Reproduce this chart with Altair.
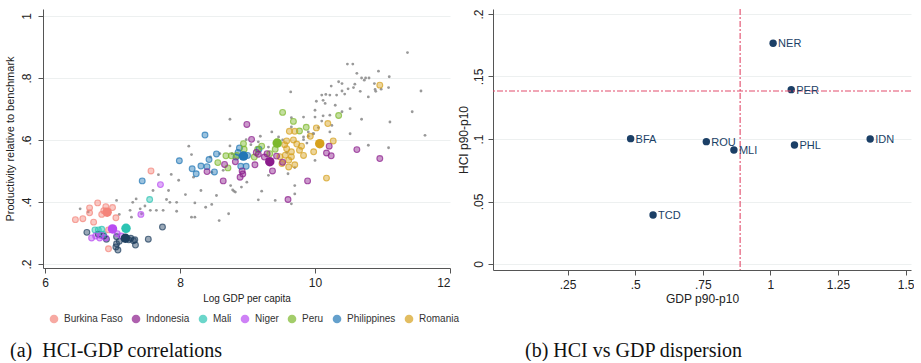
import altair as alt
import pandas as pd

FONT = "Liberation Sans"
SERIF = "Liberation Serif"

# ---------------- Panel (a): background (all regions, grey) ----------------
grey_x = [11.37, 10.48, 10.56, 10.94, 11.10, 10.62, 10.69, 10.75, 10.80, 10.73,
          10.35, 10.40, 10.24, 10.57, 10.49, 10.89, 11.09, 11.57, 10.40, 10.67,
          10.44, 10.10, 10.22, 10.32, 9.64, 10.79, 10.02, 10.12, 10.15, 10.30,
          10.52, 11.44, 10.00, 10.40, 10.22, 11.11, 10.12, 9.83, 10.69, 8.74,
          9.65, 10.00, 10.10, 10.52, 11.63, 10.79, 11.09, 9.90, 9.98, 10.22,
          9.83, 9.65, 9.19, 9.36, 9.46, 9.16, 8.98, 8.74, 8.13, 8.17,
          8.59, 8.77, 8.20, 8.47, 8.64, 7.87, 7.98, 7.68, 8.75, 8.78,
          8.82, 8.31, 8.54, 8.08, 7.83, 7.80, 7.60, 7.75, 7.65, 7.56,
          7.85, 7.95, 8.22, 8.38, 8.47, 7.95, 8.17, 8.22, 8.72, 8.58,
          9.41, 9.16, 9.21, 9.70, 9.70, 9.65, 9.60, 9.31, 10.00, 8.99,
          8.91, 6.52, 6.64, 7.06, 7.26, 7.30, 7.35, 7.10, 7.48, 7.41,
          7.28, 7.43, 9.31, 10.59, 10.88, 10.98, 10.90, 10.16, 10.25, 9.83,
          9.90, 9.97, 9.70, 8.80, 8.45, 9.05, 9.52, 9.58, 9.88, 10.05]
grey_y = [0.882, 0.845, 0.845, 0.822, 0.804, 0.815, 0.800, 0.800, 0.800, 0.793,
          0.788, 0.782, 0.774, 0.769, 0.765, 0.763, 0.769, 0.758, 0.758, 0.757,
          0.748, 0.745, 0.745, 0.745, 0.755, 0.739, 0.725, 0.728, 0.718, 0.712,
          0.701, 0.691, 0.696, 0.691, 0.680, 0.658, 0.678, 0.674, 0.667, 0.667,
          0.672, 0.674, 0.661, 0.620, 0.615, 0.583, 0.575, 0.626, 0.620, 0.626,
          0.610, 0.642, 0.612, 0.626, 0.610, 0.594, 0.601, 0.581, 0.580, 0.553,
          0.556, 0.556, 0.480, 0.496, 0.502, 0.489, 0.470, 0.488, 0.453, 0.439,
          0.432, 0.437, 0.421, 0.424, 0.437, 0.408, 0.437, 0.373, 0.373, 0.373,
          0.399, 0.399, 0.397, 0.383, 0.392, 0.370, 0.351, 0.351, 0.362, 0.340,
          0.405, 0.407, 0.435, 0.453, 0.426, 0.394, 0.491, 0.486, 0.534, 0.464,
          0.448, 0.378, 0.368, 0.405, 0.373, 0.399, 0.410, 0.360, 0.387, 0.378,
          0.351, 0.362, 0.577, 0.780, 0.782, 0.764, 0.757, 0.747, 0.647, 0.601,
          0.612, 0.620, 0.511, 0.435, 0.545, 0.585, 0.600, 0.560, 0.590, 0.640]

# ---------------- Panel (a): highlighted countries ----------------
countries = ["Burkina Faso", "Indonesia", "Mali", "Niger", "Peru",
             "Philippines", "Romania", "Chad"]
legend_countries = ["Burkina Faso", "Indonesia", "Mali", "Niger", "Peru",
                    "Philippines", "Romania"]
country_colors = ["#F4847A", "#8B1C8C", "#2CC4B3", "#B94CF2", "#7CB82B",
                  "#2277B6", "#D6A11E", "#1F3F5F"]

bfa_x = [6.45, 6.56, 6.66, 6.66, 6.78, 6.72, 6.87, 7.00, 7.05, 6.94, 6.94, 7.57, 6.90, 6.84]
bfa_y = [0.343, 0.346, 0.381, 0.365, 0.397, 0.335, 0.372, 0.382, 0.349, 0.310, 0.249, 0.500, 0.385, 0.360]
idn_x = [8.99, 9.06, 8.64, 8.40, 8.89, 8.92, 9.11, 9.16, 9.29, 9.37, 9.52, 9.60,
         9.89, 10.17, 10.24, 10.21, 10.62, 10.96, 8.66, 8.82, 9.25, 9.43, 9.13, 8.93]
idn_y = [0.650, 0.602, 0.468, 0.498, 0.480, 0.500, 0.520, 0.554, 0.556, 0.500, 0.528, 0.408,
         0.468, 0.558, 0.549, 0.580, 0.569, 0.540, 0.521, 0.530, 0.545, 0.548, 0.560, 0.490]
mli_x = [7.55, 6.79, 6.84, 6.74, 6.86]
mli_y = [0.408, 0.310, 0.312, 0.310, 0.296]
ner_x = [7.42, 7.71, 6.69, 6.81, 6.83, 6.90, 7.07, 7.13, 6.75]
ner_y = [0.360, 0.456, 0.284, 0.284, 0.292, 0.284, 0.298, 0.290, 0.290]
per_x = [9.52, 9.68, 9.87, 10.35, 8.68, 8.76, 8.84, 8.56, 8.71, 8.94, 9.21, 9.15,
         9.10, 9.33, 9.77, 9.41, 8.95]
per_y = [0.689, 0.660, 0.641, 0.679, 0.549, 0.549, 0.550, 0.527, 0.510, 0.588, 0.580, 0.570,
         0.545, 0.556, 0.629, 0.570, 0.570]
phl_x = [7.44, 7.99, 8.37, 8.18, 8.24, 8.31, 8.40, 8.43, 8.54, 8.51, 8.88, 8.90,
         8.98, 9.00, 8.86, 8.83, 9.17]
phl_y = [0.468, 0.533, 0.616, 0.507, 0.491, 0.516, 0.514, 0.537, 0.555, 0.497, 0.574, 0.515,
         0.515, 0.550, 0.560, 0.545, 0.570]
rou_x = [10.96, 10.19, 10.02, 9.62, 9.70, 9.58, 9.73, 9.77, 9.98, 10.27, 10.17, 9.65,
         9.56, 9.61, 9.51, 9.61, 9.58, 9.65, 9.48, 9.68, 9.80, 9.93, 9.83, 9.55, 9.70]
rou_y = [0.777, 0.653, 0.639, 0.628, 0.628, 0.597, 0.587, 0.567, 0.562, 0.597, 0.477, 0.562,
         0.551, 0.535, 0.524, 0.513, 0.572, 0.546, 0.546, 0.600, 0.580, 0.612, 0.550, 0.585, 0.520]
tcd_x = [6.62, 6.79, 6.91, 7.06, 7.06, 7.08, 7.05, 7.27, 7.33, 7.34, 7.53, 7.74,
         7.24, 7.31, 6.87, 7.10]
tcd_y = [0.302, 0.296, 0.280, 0.288, 0.265, 0.245, 0.255, 0.283, 0.278, 0.261, 0.280, 0.319,
         0.278, 0.275, 0.290, 0.273]

# national (large) markers, in the order of `countries`
nat_x = [6.92, 9.33, 7.20, 7.00, 9.44, 8.94, 10.07, 7.19]
nat_y = [0.367, 0.530, 0.315, 0.313, 0.590, 0.548, 0.588, 0.283]

# ---------------- Panel (b) ----------------
codes = ["NER", "PER", "BFA", "ROU", "MLI", "PHL", "IDN", "TCD"]
gdp_disp = [1.010, 1.077, 0.483, 0.763, 0.865, 1.089, 1.369, 0.566]
hci_disp = [0.1766, 0.1395, 0.1003, 0.0979, 0.0912, 0.0952, 0.1000, 0.0392]
gdp_ref = [0.888]
hci_ref = [0.1384]

caption_a = "(a)\u00a0\u00a0HCI-GDP correlations"
caption_b = "(b)\u00a0HCI vs GDP dispersion"

# ---------------- build tables ----------------
df_grey = pd.DataFrame({"x": grey_x, "y": grey_y})
region_lists = {
    "Burkina Faso": (bfa_x, bfa_y), "Indonesia": (idn_x, idn_y), "Mali": (mli_x, mli_y),
    "Niger": (ner_x, ner_y), "Peru": (per_x, per_y), "Philippines": (phl_x, phl_y),
    "Romania": (rou_x, rou_y), "Chad": (tcd_x, tcd_y),
}
rows = []
for c in ["Chad", "Burkina Faso", "Mali", "Niger", "Philippines", "Peru", "Romania", "Indonesia"]:
    xs_, ys_ = region_lists[c]
    for a, b in zip(xs_, ys_):
        rows.append({"country": c, "x": a, "y": b})
df_small = pd.DataFrame(rows)
df_nat = pd.DataFrame({"country": countries, "x": nat_x, "y": nat_y})
df_b = pd.DataFrame({"code": codes, "gdp": gdp_disp, "hci": hci_disp})

# ---------------- panel (a) ----------------
W1, H1 = 407, 259
xs1 = alt.Scale(domain=[5.97, 12.0], nice=False, zero=False)
ys1 = alt.Scale(domain=[0.187, 1.0226], nice=False, zero=False)
cscale = alt.Scale(domain=countries, range=country_colors)

axis_common = dict(domainColor="#555555", tickColor="#555555", labelColor="#222222",
                   titleColor="#222222", labelFont=FONT, titleFont=FONT,
                   labelFontSize=12, tickSize=5, domainWidth=1, tickWidth=1,
                   titleFontWeight="normal")

xax1 = alt.Axis(values=[6, 8, 10, 12], title="Log GDP per capita", grid=False,
                titleFontSize=10, labelPadding=4, titlePadding=5, **axis_common)
yax1 = alt.Axis(values=[0.2, 0.4, 0.6, 0.8, 1.0], title="Productivity relative to benchmark",
                grid=True, gridColor="#EDF0F0", gridWidth=1, labelAngle=270,
                labelAlign="center", labelBaseline="bottom", labelPadding=5,
                labelExpr="datum.value >= 1 ? '1' : replace(format(datum.value, '.1f'), '0.', '.')",
                titleFontSize=11, titlePadding=5, **axis_common)

X1 = alt.X("x:Q", scale=xs1, axis=xax1)
Y1 = alt.Y("y:Q", scale=ys1, axis=yax1)

grey = alt.Chart(df_grey).mark_circle(size=8, color="#8E8E8E", opacity=0.9).encode(x=X1, y=Y1)
small_fill = alt.Chart(df_small).mark_circle(size=34, opacity=0.45).encode(
    x=X1, y=Y1,
    color=alt.Color("country:N", scale=cscale, legend=alt.Legend(
        values=legend_countries, title=None, orient="none", direction="horizontal",
        legendX=6, legendY=305, symbolType="circle", symbolSize=75,
        symbolOpacity=0.9, symbolStrokeWidth=0, labelFont=FONT, labelFontSize=10,
        labelColor="#333333", labelOffset=5, columnPadding=8)),
)
small_ring = alt.Chart(df_small).mark_point(size=34, filled=False, strokeWidth=1.1, opacity=0.7).encode(
    x=X1, y=Y1, color=alt.Color("country:N", scale=cscale))
nat = alt.Chart(df_nat).mark_circle(size=90, opacity=1).encode(
    x=X1, y=Y1, color=alt.Color("country:N", scale=cscale))
cap_a = alt.Chart(pd.DataFrame({"t": [caption_a]})).mark_text(
    align="left", baseline="middle", font=SERIF, fontSize=20, color="#111111").encode(
    text="t:N", x=alt.value(-33), y=alt.value(342))

left = alt.layer(grey, small_fill, small_ring, nat, cap_a).properties(width=W1, height=H1)

# ---------------- panel (b) ----------------
W2, H2 = 418, 261
xs2 = alt.Scale(domain=[-0.026, 1.52], nice=False, zero=False)
ys2 = alt.Scale(domain=[-0.0048, 0.204], nice=False, zero=False)
navy = "#1B3F66"
ref_col = "#E24C6C"

xax2 = alt.Axis(values=[0.25, 0.5, 0.75, 1.0, 1.25, 1.5], title="GDP p90-p10", grid=False,
                labelExpr="datum.value < 1 ? replace(format(datum.value, '.2~f'), '0.', '.') : format(datum.value, '.2~f')",
                titleFontSize=12, labelPadding=4, titlePadding=3, **axis_common)
yax2 = alt.Axis(values=[0, 0.05, 0.1, 0.15, 0.2], title="HCI p90-p10",
                grid=True, gridColor="#EDF0F0", gridWidth=1, labelAngle=270,
                labelAlign="center", labelBaseline="bottom", labelPadding=3,
                labelExpr="datum.value == 0 ? '0' : replace(format(datum.value, '.2~f'), '0.', '.')",
                titleFontSize=12, titlePadding=2, **axis_common)

pts = alt.Chart(df_b).mark_circle(size=55, color=navy, opacity=1).encode(
    x=alt.X("gdp:Q", scale=xs2, axis=xax2),
    y=alt.Y("hci:Q", scale=ys2, axis=yax2),
)
lbl = alt.Chart(df_b).mark_text(align="left", baseline="middle", dx=5, dy=1, font=FONT,
                                fontSize=11, color=navy).encode(
    x=alt.X("gdp:Q", scale=xs2, axis=xax2),
    y=alt.Y("hci:Q", scale=ys2, axis=yax2),
    text="code:N",
)
vrule = alt.Chart(pd.DataFrame({"gdp": gdp_ref})).mark_rule(
    color=ref_col, strokeWidth=1.1, strokeDash=[6, 2, 2, 2]).encode(
    x=alt.X("gdp:Q", scale=xs2, axis=xax2))
hrule = alt.Chart(pd.DataFrame({"hci": hci_ref})).mark_rule(
    color=ref_col, strokeWidth=1.1, strokeDash=[6, 2, 2, 2]).encode(
    y=alt.Y("hci:Q", scale=ys2, axis=yax2))
cap_b = alt.Chart(pd.DataFrame({"t": [caption_b]})).mark_text(
    align="left", baseline="middle", font=SERIF, fontSize=20, color="#111111").encode(
    text="t:N", x=alt.value(32), y=alt.value(342))

right = alt.layer(pts, vrule, hrule, lbl, cap_b).properties(width=W2, height=H2)

chart = alt.hconcat(left, right, spacing=6).properties(
    padding={"left": 4, "top": 8, "right": 0, "bottom": 0},
    background="white",
).configure_view(stroke=None)

chart.save("out.html", embed_options={"renderer": "svg", "actions": False})
